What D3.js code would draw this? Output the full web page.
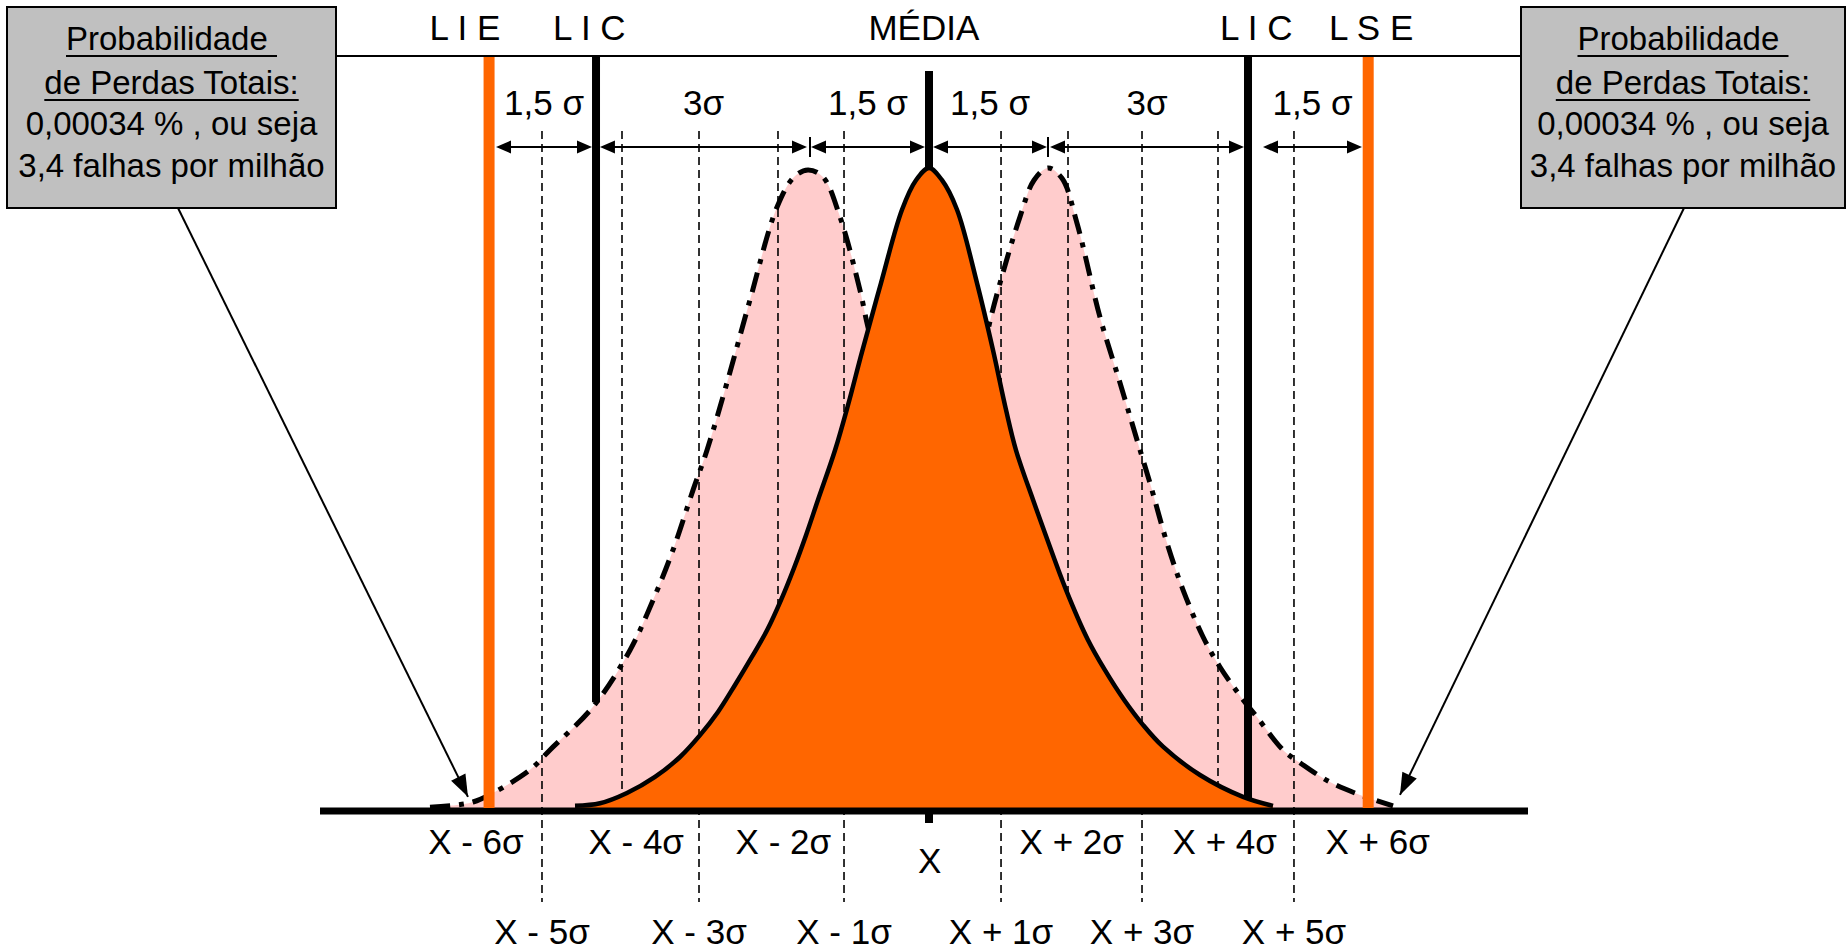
<!DOCTYPE html>
<html><head><meta charset="utf-8">
<script src="https://cdn.jsdelivr.net/npm/d3@7"></script>
<style>
body{margin:0;background:#fff}
svg{display:block;background:#fff}
text{font-family:"Liberation Sans",Arial,sans-serif;fill:#000}
</style>
</head><body>
<svg id="c" width="1847" height="950"></svg>
<script>
// ---- DATA (x in sigma units from the mean, h = relative density, 1 = peak) ----
const centralCurve = [[-4.836,0.008],[-4.495,0.012],[-4.126,0.028],[-3.743,0.053],[-3.402,0.084],[-3.128,0.118],[-2.883,0.154],[-2.650,0.196],[-2.418,0.240],[-2.213,0.281],[-2.022,0.328],[-1.844,0.378],[-1.680,0.429],[-1.516,0.484],[-1.284,0.561],[-1.107,0.631],[-0.915,0.714],[-0.656,0.821],[-0.369,0.935],[-0.178,0.981],[0,1],[0.178,0.981],[0.383,0.935],[0.656,0.821],[0.874,0.717],[1.052,0.624],[1.189,0.561],[1.421,0.484],[1.585,0.432],[1.872,0.344],[2.172,0.266],[2.404,0.219],[2.664,0.173],[2.923,0.134],[3.197,0.100],[3.702,0.056],[4.290,0.022],[4.699,0.008]];
const shiftedLeft = [[-6.817,0.006],[-6.475,0.009],[-6.230,0.014],[-5.956,0.028],[-5.451,0.064],[-5.178,0.095],[-4.590,0.162],[-4.085,0.250],[-3.770,0.328],[-3.497,0.406],[-3.224,0.499],[-3.033,0.561],[-2.760,0.666],[-2.445,0.795],[-2.077,0.939],[-1.844,0.986],[-1.653,0.997],[-1.448,0.986],[-1.216,0.924],[-0.943,0.810],[-0.847,0.759],[-0.601,0.639],[-0.328,0.484],[0.014,0.266],[0.423,0.079],[0.833,0]];
const shiftedRight = [[-0.806,0],[-0.396,0.079],[0.014,0.266],[0.355,0.484],[0.628,0.639],[0.806,0.748],[0.970,0.821],[1.243,0.924],[1.434,0.981],[1.626,1.0],[1.817,0.984],[2.022,0.914],[2.336,0.768],[2.609,0.666],[2.855,0.572],[3.019,0.510],[3.251,0.417],[3.470,0.344],[3.743,0.271],[3.975,0.224],[4.290,0.173],[4.481,0.146],[4.836,0.095],[5.068,0.075],[5.478,0.045],[5.888,0.025],[6.339,0.008]];

const gridSigma   = [-5,-4,-3,-2,-1,1,2,3,4,5];
const gridDrawnAt = [-5.287,-4.194,-3.142,-2.063,-1.161,0.984,1.899,2.910,3.948,4.986];

const upperLabels = ["X - 6σ","X - 4σ","X - 2σ","X","X + 2σ","X + 4σ","X + 6σ"];
const upperAt     = [-6.19,-4.0,-1.99,0.01,1.95,4.04,6.13];
const lowerLabels = ["X - 5σ","X - 3σ","X - 1σ","X + 1σ","X + 3σ","X + 5σ"];
const lowerAt     = [-5.287,-3.142,-1.161,0.984,2.910,4.986];

const specLimits  = [-6.01, 6.0];          // LIE, LSE
const controlLimits = [-4.549, 4.358];     // LIC, LIC
const topLabels   = ["L I E","L I C","MÉDIA","L I C","L S E"];
const topLabelAt  = [-6.34,-4.64,-0.07,4.47,6.04];

const arrowFrom   = [-5.915,-4.495,-1.612,0.055,1.653,4.563];
const arrowTo     = [-4.604,-1.667,-0.055,1.612,4.303,5.915];
const arrowLabels = ["1,5 σ","3σ","1,5 σ","1,5 σ","3σ","1,5 σ"];
const shiftTicks  = [-1.626, 1.626];

const boxLines    = ["Probabilidade ","de Perdas Totais:","0,00034 % , ou seja","3,4 falhas por milhão"];
const boxUnderline= [true,true,false,false];
const calloutTargets = [[-6.298,0.022],[6.434,0.025]];

// ---- SCALES ----
const svg = d3.select('#c');
const x = d3.scaleLinear().domain([-6,6]).range([489.8,1368.2]);
const y = d3.scaleLinear().domain([0,1]).range([811,168]);
const cv = d3.curveCatmullRom.alpha(0.5);
const line = d3.line().x(d=>x(d[0])).y(d=>y(d[1])).curve(cv);
const area = d3.area().x(d=>x(d[0])).y0(y(0)).y1(d=>y(d[1])).curve(cv);
function interp(c, s){
  for(let i=1;i<c.length;i++){ if(c[i][0]>=s){const a=c[i-1],b=c[i];return a[1]+(b[1]-a[1])*(s-a[0])/(b[0]-a[0]);} }
  return 0;
}
const ORANGE="#ff6600", PINK="#ffcccc";
const topY=56;

// pink fills
[shiftedLeft, shiftedRight].forEach(c=>svg.append('path').attr('d',area(c)).attr('fill',PINK));

// gridlines
gridDrawnAt.forEach((s,i)=>{
  const odd = Math.abs(gridSigma[i])%2===1;
  svg.append('line').attr('x1',x(s)).attr('x2',x(s)).attr('y1',131).attr('y2',odd?902:808)
    .attr('stroke','#000').attr('stroke-width',1.6).attr('stroke-dasharray','8,5');
});

// pink dash-dot outlines
[shiftedLeft, shiftedRight].forEach(c=>svg.append('path').attr('d',line(c)).attr('fill','none')
  .attr('stroke','#000').attr('stroke-width',5).attr('stroke-dasharray','20,9,5,9'));

// control limits (LIC)
svg.append('line').attr('x1',x(controlLimits[0])).attr('x2',x(controlLimits[0]))
  .attr('y1',topY).attr('y2',y(interp(shiftedLeft,controlLimits[0]))).attr('stroke','#000').attr('stroke-width',8);
svg.append('line').attr('x1',x(controlLimits[1])).attr('x2',x(controlLimits[1]))
  .attr('y1',topY).attr('y2',y(interp(centralCurve,controlLimits[1]))).attr('stroke','#000').attr('stroke-width',8);

// mean line
svg.append('line').attr('x1',x(0)).attr('x2',x(0)).attr('y1',71).attr('y2',823).attr('stroke','#000').attr('stroke-width',8);

// central curve
svg.append('path').attr('d',area(centralCurve)).attr('fill',ORANGE);
svg.append('path').attr('d',line(centralCurve)).attr('fill','none').attr('stroke','#000').attr('stroke-width',4.5);

// axis
svg.append('line').attr('x1',320).attr('x2',1528).attr('y1',y(0)).attr('y2',y(0)).attr('stroke','#000').attr('stroke-width',7);

// spec limits
specLimits.forEach(s=>svg.append('line').attr('x1',x(s)).attr('x2',x(s)).attr('y1',topY).attr('y2',808)
  .attr('stroke',ORANGE).attr('stroke-width',11));

// top line
svg.append('line').attr('x1',336).attr('x2',1521).attr('y1',topY).attr('y2',topY).attr('stroke','#000').attr('stroke-width',2);

// top labels
topLabels.forEach((t,i)=>svg.append('text').attr('x',x(topLabelAt[i])).attr('y',40)
  .attr('text-anchor','middle').attr('font-size',35).text(t));

// dimension arrows
const ay=147;
function head(px,py,dir,len,hw){
  return `M${px},${py}L${px-dir*len},${py-hw}L${px-dir*len},${py+hw}Z`;
}
arrowFrom.forEach((s,i)=>{
  const a=x(s), b=x(arrowTo[i]);
  svg.append('line').attr('x1',a+8).attr('x2',b-8).attr('y1',ay).attr('y2',ay).attr('stroke','#000').attr('stroke-width',2.2);
  svg.append('path').attr('d',head(a,ay,-1,15,6.5)).attr('fill','#000');
  svg.append('path').attr('d',head(b,ay,1,15,6.5)).attr('fill','#000');
  svg.append('text').attr('x',(a+b)/2).attr('y',115).attr('text-anchor','middle').attr('font-size',35).text(arrowLabels[i]);
});
shiftTicks.forEach(s=>svg.append('line').attr('x1',x(s)).attr('x2',x(s)).attr('y1',137).attr('y2',157).attr('stroke','#000').attr('stroke-width',2));

// bottom labels
upperLabels.forEach((t,i)=>svg.append('text').attr('x',x(upperAt[i])).attr('y',t==="X"?873:854)
  .attr('text-anchor','middle').attr('font-size',35).text(t));
lowerLabels.forEach((t,i)=>svg.append('text').attr('x',x(lowerAt[i])).attr('y',944)
  .attr('text-anchor','middle').attr('font-size',35).text(t));

// boxes
const boxes=[{x:7,w:329},{x:1521,w:324}];
const boxTop=7, boxH=201, baselines=[50,94,135,177];
boxes.forEach(bx=>{
  svg.append('rect').attr('x',bx.x).attr('y',boxTop).attr('width',bx.w).attr('height',boxH)
    .attr('fill','#c0c0c0').attr('stroke','#000').attr('stroke-width',2);
  const cx=bx.x+bx.w/2;
  boxLines.forEach((t,i)=>{
    const tx=svg.append('text').attr('x',cx).attr('y',baselines[i]).attr('text-anchor','middle')
      .attr('font-size',33).style('white-space','pre').text(t);
    if(boxUnderline[i]){
      const w=tx.node().getComputedTextLength();
      svg.append('line').attr('x1',cx-w/2).attr('x2',cx+w/2).attr('y1',baselines[i]+6).attr('y2',baselines[i]+6)
        .attr('stroke','#000').attr('stroke-width',2.2);
    }
  });
});

// callout arrows
function callout(x1,y1,x2,y2){
  svg.append('line').attr('x1',x1).attr('y1',y1).attr('x2',x2).attr('y2',y2).attr('stroke','#000').attr('stroke-width',2);
  const ang=Math.atan2(y2-y1,x2-x1), L=22, hw=8;
  const bx=x2-L*Math.cos(ang), by=y2-L*Math.sin(ang);
  const px=-Math.sin(ang)*hw, py=Math.cos(ang)*hw;
  svg.append('path').attr('d',`M${x2},${y2}L${bx+px},${by+py}L${bx-px},${by-py}Z`).attr('fill','#000');
}
callout(178, boxTop+boxH, x(calloutTargets[0][0]), y(calloutTargets[0][1]));
callout(1684, boxTop+boxH, x(calloutTargets[1][0]), y(calloutTargets[1][1]));
</script>
</body></html>
